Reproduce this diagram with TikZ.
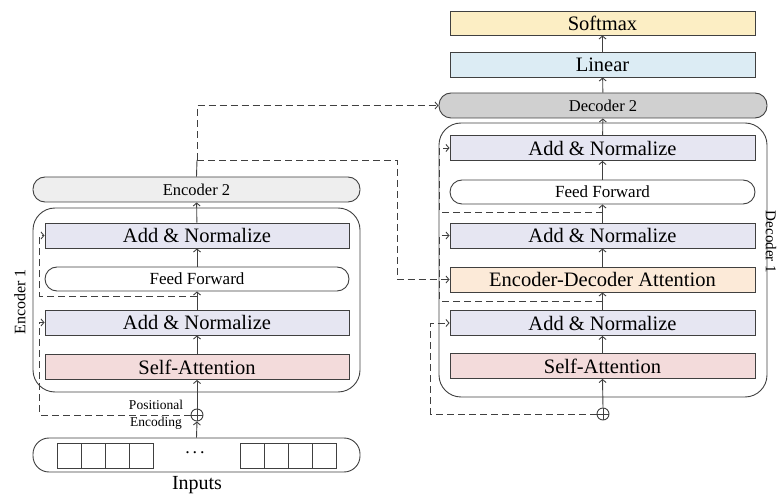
\documentclass[tikz,border=0pt]{standalone}
\usepackage{fontspec}
\setmainfont{Liberation Serif}
\usetikzlibrary{arrows.meta}
\definecolor{andfill}{RGB}{230,230,242}
\definecolor{safill}{RGB}{243,219,219}
\definecolor{edafill}{RGB}{252,234,216}
\definecolor{smfill}{RGB}{252,238,196}
\definecolor{linfill}{RGB}{220,236,244}
\definecolor{decfill}{RGB}{208,208,208}
\definecolor{encfill}{RGB}{238,238,238}
\begin{document}
\begin{tikzpicture}[x=1pt,y=-1pt,
  layer/.style={draw=black!75,line width=0.9pt,minimum width=304,minimum height=25,inner sep=0,font=\fontsize{20.5}{22}\selectfont},
  pill/.style={layer,rounded corners=12pt,fill=white,font=\fontsize{17}{19}\selectfont},
  flow/.style={draw=black!75,line width=0.9pt,-{Straight Barb[length=3pt,width=7pt]}},
  res/.style={flow,dashed,dash pattern=on 7pt off 4pt},
  cell/.style={draw=black!75,line width=0.9pt,minimum width=24,minimum height=25,inner sep=0}]
\useasboundingbox (0,0) rectangle (777,494);
\draw[black!75,line width=0.9pt,rounded corners=22pt] (33,208) rectangle (360,392);
\draw[black!75,line width=0.9pt,rounded corners=22pt] (439,123) rectangle (767,397);
\node[pill,fill=encfill,minimum width=327,font=\fontsize{16.5}{18}\selectfont] (enc2) at (196.5,189.5) {Encoder 2};
\node[layer,fill=andfill] (encan2) at (197,235.5) {Add \& Normalize};
\node[pill,minimum height=24] (encff) at (197,279) {Feed Forward};
\node[layer,fill=andfill] (encan1) at (197,322.5) {Add \& Normalize};
\node[layer,fill=safill] (encsa) at (197,367) {Self-Attention};
\node[circle,draw=black!75,line width=0.9pt,minimum size=12,inner sep=0] (encplus) at (197,415) {};
\node[pill,minimum width=327,minimum height=34,rounded corners=16pt] (inputs) at (196.5,455) {};
\foreach \i in {0,1,2,3} {
  \node[cell] (inl\i) at (69+24*\i,455.5) {};
  \node[cell] (inr\i) at (252+24*\i,455.5) {};
}
\node[font=\fontsize{18}{20}\selectfont] (dots) at (195,453) {.\,.\,.};
\node[font=\fontsize{20}{22}\selectfont] (inlab) at (197,485) {Inputs};
\node[font=\fontsize{13.5}{15}\selectfont] (poslab) at (156,405) {Positional};
\node[font=\fontsize{13.5}{15}\selectfont] (enclab) at (156,423) {Encoding};
\node[rotate=90,font=\fontsize{16}{18}\selectfont] (enc1) at (20,302) {Encoder 1};
\node[layer,fill=smfill,minimum width=305,minimum height=24] (softmax) at (602.5,23) {Softmax};
\node[layer,fill=linfill,minimum width=305] (linear) at (602.5,64.5) {Linear};
\node[pill,fill=decfill,minimum width=328,font=\fontsize{16.5}{18}\selectfont] (dec2) at (603,105.5) {Decoder 2};
\node[layer,fill=andfill,minimum width=305] (decan3) at (602.5,148) {Add \& Normalize};
\node[pill,minimum width=305,minimum height=24] (decff) at (602.5,192) {Feed Forward};
\node[layer,fill=andfill,minimum width=305] (decan2) at (602.5,235.5) {Add \& Normalize};
\node[layer,fill=edafill,minimum width=305] (eda) at (602.5,279.5) {Encoder-Decoder Attention};
\node[layer,fill=andfill,minimum width=305] (decan1) at (602.5,323) {Add \& Normalize};
\node[layer,fill=safill,minimum width=305] (decsa) at (602.5,366) {Self-Attention};
\node[circle,draw=black!75,line width=0.9pt,minimum size=12,inner sep=0] (decplus) at (603,414) {};
\node[rotate=-90,font=\fontsize{15}{17}\selectfont] (dec1) at (771,242) {Decoder 1};
\draw[black!75,line width=0.9pt] (encplus.west) -- (encplus.east) (encplus.north) -- (encplus.south)
  (decplus.west) -- (decplus.east) (decplus.north) -- (decplus.south);
\draw[flow] (inputs.north) -- (encplus.south);
\draw[flow] (encplus.north) -- (encsa.south);
\draw[flow] (encsa) -- (encan1);
\draw[flow] (encan1) -- (encff);
\draw[flow] (encff) -- (encan2);
\draw[flow] (encan2) -- (enc2);
\draw[flow] (decplus.north) -- (decsa.south);
\draw[flow] (decsa) -- (decan1);
\draw[flow] (decan1) -- (eda);
\draw[flow] (eda) -- (decan2);
\draw[flow] (decan2) -- (decff);
\draw[flow] (decff) -- (decan3);
\draw[flow] (decan3) -- (dec2);
\draw[flow] (dec2) -- (linear);
\draw[flow] (linear) -- (softmax);
\coordinate (encout) at (197,160);
\coordinate (encres) at (197,296);
\coordinate (decres1) at (603,301);
\coordinate (decres2) at (603,212);
\draw[black!75,line width=0.9pt] (enc2.north) -- (encout);
\draw[res] (encout) |- (dec2.west);
\draw[res] (encout) -- (397,160) |- (eda.west);
\draw[res] (encplus.west) -| ([xshift=-5pt]encan1.west) -- (encan1.west);
\draw[res] (encres) -| ([xshift=-5pt]encan2.west) -- (encan2.west);
\draw[res] (decplus.west) -| ([xshift=-19pt]decan1.west) -- (decan1.west);
\draw[res] (decres1) -| ([xshift=-10pt]decan2.west) -- (decan2.west);
\draw[res] (decres2) -| ([xshift=-10pt]decan3.west) -- (decan3.west);
\end{tikzpicture}
\end{document}
